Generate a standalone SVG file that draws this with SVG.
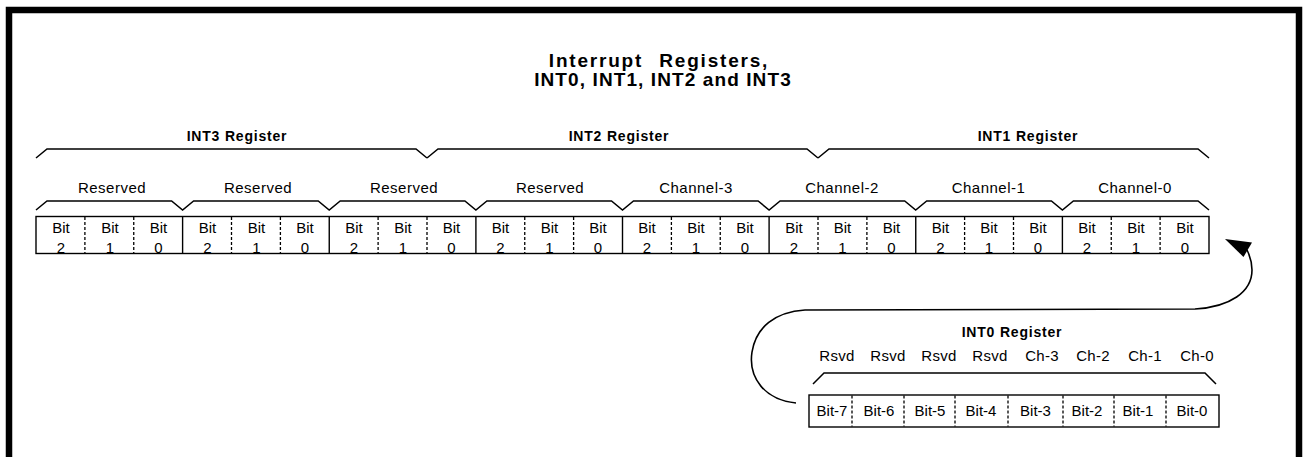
<svg xmlns="http://www.w3.org/2000/svg" width="1304" height="457" viewBox="0 0 1304 457">
<style>
text{font-family:"Liberation Sans",Arial,sans-serif;fill:#000}
.title{font-size:19px;font-weight:bold;letter-spacing:1.1px;text-anchor:middle}
.t1{letter-spacing:1.8px;word-spacing:1px}
.reg{font-size:14px;font-weight:bold;letter-spacing:0.8px;text-anchor:middle}
.fld{font-size:15px;letter-spacing:0.5px;text-anchor:middle}
.bit{font-size:15px;text-anchor:middle}
.lbl{font-size:15px;letter-spacing:0.3px;text-anchor:middle}
.brace{fill:none;stroke:#000;stroke-width:1.5}
.cell{fill:#fff;stroke:#000;stroke-width:1.4}
.div{stroke:#000;stroke-width:1.4}
.dash{stroke:#000;stroke-width:1.3;stroke-dasharray:3,2}
.conn{fill:none;stroke:#000;stroke-width:1.6}
</style>
<rect x="0" y="0" width="1304" height="457" fill="#fff"/>
<rect x="9" y="10" width="1290" height="500" fill="none" stroke="#000" stroke-width="6.5"/>

<g id="title">
<text class="title t1" x="659" y="67" xml:space="preserve">Interrupt  Registers,</text>
<text class="title" x="663" y="86">INT0, INT1, INT2 and INT3</text>
</g>

<g id="int3-register">
<text class="reg" x="237" y="141">INT3 Register</text>
<path class="brace" d="M36,158 L47,149 L416,149 L427,158"/>
</g>
<g id="int2-register">
<text class="reg" x="619" y="141">INT2 Register</text>
<path class="brace" d="M427,158 L438,149 L807,149 L818,158"/>
</g>
<g id="int1-register">
<text class="reg" x="1028" y="141">INT1 Register</text>
<path class="brace" d="M818,158 L829,149 L1198,149 L1209,158"/>
</g>

<g id="fields">
<text class="fld" x="112" y="193">Reserved</text>
<text class="fld" x="258" y="193">Reserved</text>
<text class="fld" x="404" y="193">Reserved</text>
<text class="fld" x="550" y="193">Reserved</text>
<text class="fld" x="696" y="193">Channel-3</text>
<text class="fld" x="842" y="193">Channel-2</text>
<text class="fld" x="988.5" y="193">Channel-1</text>
<text class="fld" x="1135" y="193">Channel-0</text>
<path class="brace" d="M36,210 L47,201 L171.6,201 L182.6,210 L193.6,201 L318.2,201 L329.2,210 L340.2,201 L464.9,201 L475.9,210 L486.9,201 L611.5,201 L622.5,210 L633.5,201 L758.1,201 L769.1,210 L780.1,201 L904.7,201 L915.7,210 L926.7,201 L1051.4,201 L1062.4,210 L1073.4,201 L1198,201 L1209,210"/>
</g>

<g id="bit-row">
<rect class="cell" x="36" y="216.5" width="1173" height="37"/>
<g class="div">
<line x1="182.6" y1="216.5" x2="182.6" y2="253.5"/>
<line x1="329.25" y1="216.5" x2="329.25" y2="253.5"/>
<line x1="475.9" y1="216.5" x2="475.9" y2="253.5"/>
<line x1="622.5" y1="216.5" x2="622.5" y2="253.5"/>
<line x1="769.1" y1="216.5" x2="769.1" y2="253.5"/>
<line x1="915.75" y1="216.5" x2="915.75" y2="253.5"/>
<line x1="1062.4" y1="216.5" x2="1062.4" y2="253.5"/>
</g>
<g class="dash">
<line x1="84.9" y1="217" x2="84.9" y2="253"/>
<line x1="133.75" y1="217" x2="133.75" y2="253"/>
<line x1="231.5" y1="217" x2="231.5" y2="253"/>
<line x1="280.4" y1="217" x2="280.4" y2="253"/>
<line x1="378.1" y1="217" x2="378.1" y2="253"/>
<line x1="427" y1="217" x2="427" y2="253"/>
<line x1="524.75" y1="217" x2="524.75" y2="253"/>
<line x1="573.6" y1="217" x2="573.6" y2="253"/>
<line x1="671.4" y1="217" x2="671.4" y2="253"/>
<line x1="720.25" y1="217" x2="720.25" y2="253"/>
<line x1="818" y1="217" x2="818" y2="253"/>
<line x1="866.9" y1="217" x2="866.9" y2="253"/>
<line x1="964.6" y1="217" x2="964.6" y2="253"/>
<line x1="1013.5" y1="217" x2="1013.5" y2="253"/>
<line x1="1111.25" y1="217" x2="1111.25" y2="253"/>
<line x1="1160.1" y1="217" x2="1160.1" y2="253"/>
</g>
<g class="bit">
<text x="61" y="232.5">Bit</text><text x="61" y="253">2</text>
<text x="110" y="232.5">Bit</text><text x="110" y="253">1</text>
<text x="158.5" y="232.5">Bit</text><text x="158.5" y="253">0</text>
<text x="207.5" y="232.5">Bit</text><text x="207.5" y="253">2</text>
<text x="256.5" y="232.5">Bit</text><text x="256.5" y="253">1</text>
<text x="305" y="232.5">Bit</text><text x="305" y="253">0</text>
<text x="354" y="232.5">Bit</text><text x="354" y="253">2</text>
<text x="403" y="232.5">Bit</text><text x="403" y="253">1</text>
<text x="451.5" y="232.5">Bit</text><text x="451.5" y="253">0</text>
<text x="500.5" y="232.5">Bit</text><text x="500.5" y="253">2</text>
<text x="549.5" y="232.5">Bit</text><text x="549.5" y="253">1</text>
<text x="598" y="232.5">Bit</text><text x="598" y="253">0</text>
<text x="647" y="232.5">Bit</text><text x="647" y="253">2</text>
<text x="696" y="232.5">Bit</text><text x="696" y="253">1</text>
<text x="745" y="232.5">Bit</text><text x="745" y="253">0</text>
<text x="794" y="232.5">Bit</text><text x="794" y="253">2</text>
<text x="842.5" y="232.5">Bit</text><text x="842.5" y="253">1</text>
<text x="891.5" y="232.5">Bit</text><text x="891.5" y="253">0</text>
<text x="940.5" y="232.5">Bit</text><text x="940.5" y="253">2</text>
<text x="989" y="232.5">Bit</text><text x="989" y="253">1</text>
<text x="1038" y="232.5">Bit</text><text x="1038" y="253">0</text>
<text x="1087" y="232.5">Bit</text><text x="1087" y="253">2</text>
<text x="1136" y="232.5">Bit</text><text x="1136" y="253">1</text>
<text x="1185" y="232.5">Bit</text><text x="1185" y="253">0</text>
</g>
</g>

<g id="int0-register">
<text class="reg" x="1012" y="337">INT0 Register</text>
<g class="lbl">
<text x="837" y="361">Rsvd</text>
<text x="888" y="361">Rsvd</text>
<text x="939" y="361">Rsvd</text>
<text x="990" y="361">Rsvd</text>
<text x="1042" y="361">Ch-3</text>
<text x="1093" y="361">Ch-2</text>
<text x="1145" y="361">Ch-1</text>
<text x="1197" y="361">Ch-0</text>
</g>
<path class="brace" d="M813,384 L824,373 L1205,373 L1216,384"/>
<rect class="cell" x="809" y="395" width="410" height="32"/>
<g class="dash">
<line x1="852" y1="395.5" x2="852" y2="426.5"/>
<line x1="904" y1="395.5" x2="904" y2="426.5"/>
<line x1="955" y1="395.5" x2="955" y2="426.5"/>
<line x1="1008" y1="395.5" x2="1008" y2="426.5"/>
<line x1="1063" y1="395.5" x2="1063" y2="426.5"/>
<line x1="1114" y1="395.5" x2="1114" y2="426.5"/>
<line x1="1166" y1="395.5" x2="1166" y2="426.5"/>
</g>
<g class="bit">
<text x="832" y="416">Bit-7</text>
<text x="879" y="416">Bit-6</text>
<text x="930" y="416">Bit-5</text>
<text x="981" y="416">Bit-4</text>
<text x="1035.5" y="416">Bit-3</text>
<text x="1087" y="416">Bit-2</text>
<text x="1138" y="416">Bit-1</text>
<text x="1192" y="416">Bit-0</text>
</g>
</g>

<g id="connectors">
<path class="conn" d="M796,403 C765,400 748,378 752,352 C756,327 775,312 805,310 L1195,309 C1230,307 1252,292 1252,270 C1252,262 1250,256 1247,250"/>
<polygon points="1225,239 1252,242.5 1243.5,257" fill="#000"/>
</g>
</svg>
